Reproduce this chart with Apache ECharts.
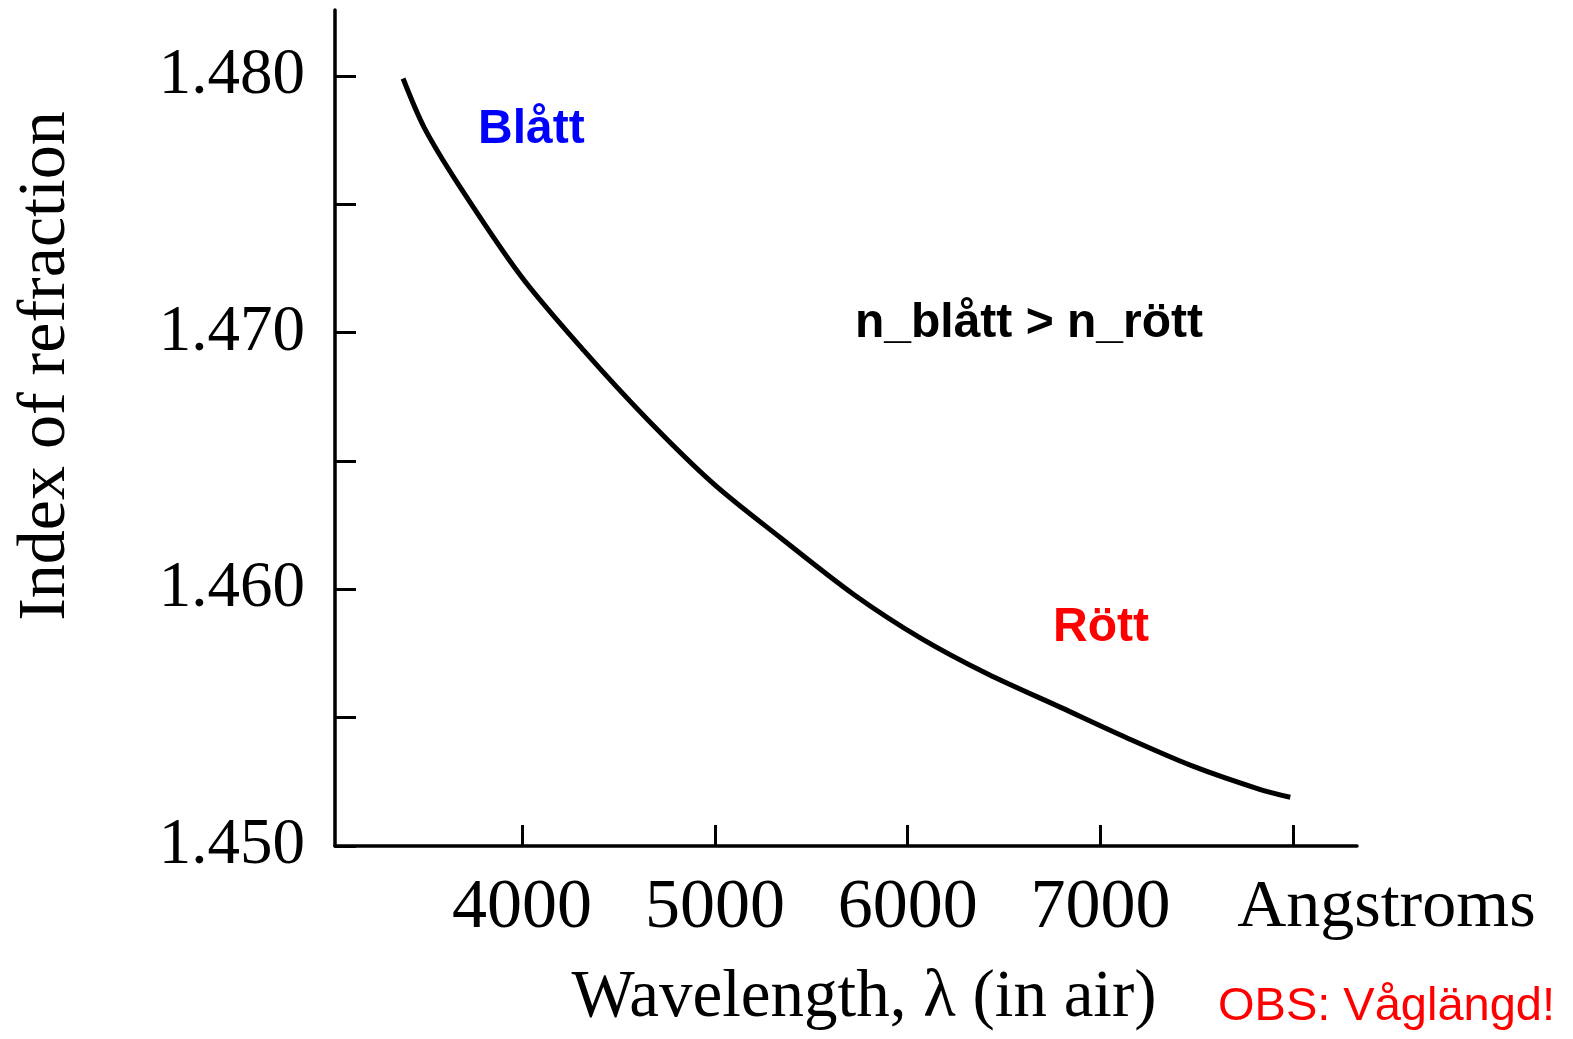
<!DOCTYPE html>
<html>
<head>
<meta charset="utf-8">
<script src="https://cdn.jsdelivr.net/npm/echarts@6/dist/echarts.min.js"></script>
<style>
html,body{margin:0;padding:0;background:#fff;}
#chart{width:1573px;height:1039px;}
</style>
</head>
<body>
<div id="chart"></div>
<script>
// Wavelength in Angstroms
const wavelengths = [3383, 3492, 3668, 3995, 4321, 4653, 4995, 5342, 5720, 6067, 6415, 6793, 7140, 7482, 7829, 7984];
// Index of refraction
const indices = [1.4799, 1.4780, 1.4758, 1.4722, 1.4693, 1.4666, 1.4641, 1.4620, 1.4598, 1.4581, 1.4567, 1.4554, 1.4542, 1.4531, 1.4522, 1.4519];
const xTicks = [4000, 5000, 6000, 7000, 8000];
const yTicks = [1.450, 1.455, 1.460, 1.465, 1.470, 1.475, 1.480];
const yLabels = [1.450, 1.460, 1.470, 1.480];

const chart = echarts.init(document.getElementById('chart'));
const serif = 'Liberation Serif, Times New Roman, serif';
const sans = 'Liberation Sans, Arial, sans-serif';

chart.setOption({
  animation: false,
  backgroundColor: '#ffffff',
  grid: {left: 335, right: 216, top: 10, bottom: 193, containLabel: false},
  xAxis: {
    type: 'value', min: 3030, max: 8330,
    splitLine: {show: false},
    axisLine: {show: true, onZero: false, lineStyle: {color: '#000', width: 3.5}},
    axisTick: {show: true, inside: true, length: 21, customValues: xTicks, lineStyle: {color: '#000', width: 3}},
    axisLabel: {
      customValues: xTicks,
      margin: 28,
      color: '#000', fontFamily: serif, fontSize: 70,
      formatter: v => v === 8000 ? '{a|Angstroms}' : String(v),
      rich: {a: {fontFamily: serif, fontSize: 68, color: '#000', padding: [0, 0, 0, 186]}}
    }
  },
  yAxis: {
    type: 'value', min: 1.450, max: 1.48257,
    splitLine: {show: false},
    axisLine: {show: true, onZero: false, lineStyle: {color: '#000', width: 3.5}},
    axisTick: {show: true, inside: true, length: 21, customValues: yTicks, lineStyle: {color: '#000', width: 3}},
    axisLabel: {
      customValues: yLabels,
      margin: 30,
      color: '#000', fontFamily: serif, fontSize: 65,
      formatter: v => v.toFixed(3)
    }
  },
  series: [{
    type: 'line',
    data: wavelengths.map((w, i) => [w, indices[i]]),
    smooth: 0.3,
    symbol: 'none',
    lineStyle: {color: '#000', width: 5},
    clip: false
  }],
  graphic: [
    {type: 'text', rotation: Math.PI / 2, x: 46, y: 366,
     style: {text: 'Index of refraction', font: '68px ' + serif, fill: '#000', textAlign: 'center', textVerticalAlign: 'middle'}},
    {type: 'text', x: 864, y: 998,
     style: {text: 'Wavelength, λ (in air)', font: '67px ' + serif, fill: '#000', textAlign: 'center', textVerticalAlign: 'middle'}},
    {type: 'text', x: 478, y: 130,
     style: {text: 'Blått', font: 'bold 48px ' + sans, fill: '#0000ff', textAlign: 'left', textVerticalAlign: 'middle'}},
    {type: 'text', x: 855, y: 324,
     style: {text: 'n_blått > n_rött', font: 'bold 48px ' + sans, fill: '#000', textAlign: 'left', textVerticalAlign: 'middle'}},
    {type: 'text', x: 1053, y: 628,
     style: {text: 'Rött', font: 'bold 48px ' + sans, fill: '#ff0000', textAlign: 'left', textVerticalAlign: 'middle'}},
    {type: 'text', x: 1218, y: 1007,
     style: {text: 'OBS: Våglängd!', font: '47px ' + sans, fill: '#ff0000', textAlign: 'left', textVerticalAlign: 'middle'}}
  ]
});
</script>
</body>
</html>
